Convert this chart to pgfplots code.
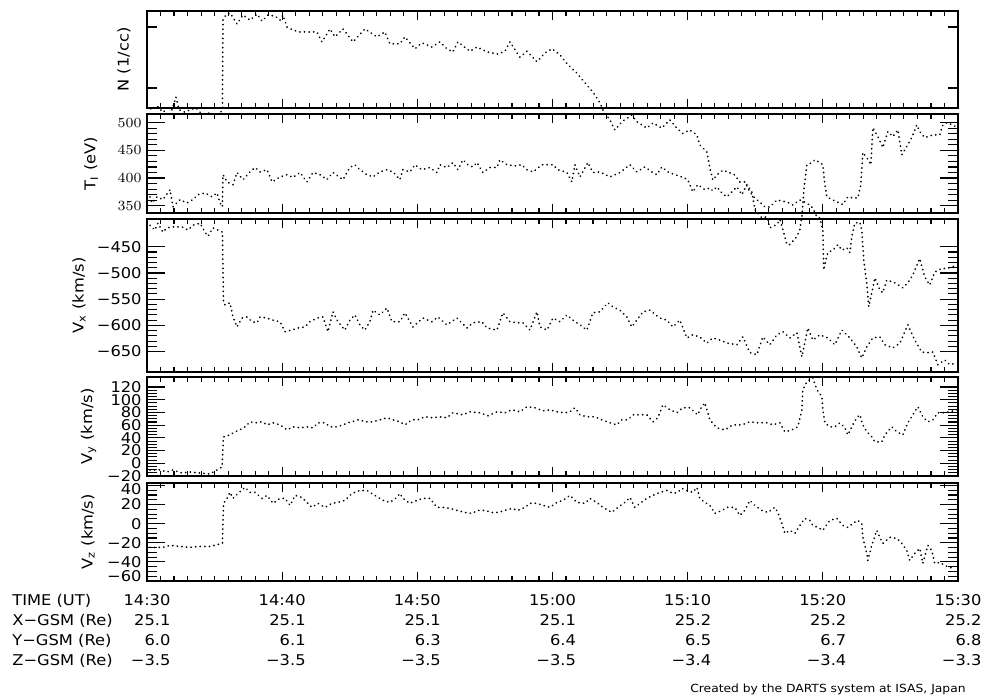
\documentclass[border=0pt]{standalone}
\usepackage{fontspec}
\setmainfont{DejaVu Sans}[FakeStretch=1.1]
\usepackage{pgfplots}
\pgfplotsset{compat=1.18}
\newcommand{\lf}{\fontsize{7.4}{9.85}\selectfont}
\newcommand{\shiftlab}[2]{\raisebox{#1}[\height][\depth]{#2}}
\pgfplotsset{
  panel/.style={
    scale only axis, width=405.5pt, anchor=south west,
    xmin=0, xmax=60, xtick={0,10,...,60}, minor x tick num=9,
    xticklabels={},
    tick align=inside, xtick pos=both, ytick pos=both,
    yticklabel pos=left,
    clip=false,
    axis line style={line width=0.9pt},
    tick style={black, line width=0.55pt},
    major tick length=9pt, minor tick length=5pt,
    xtick style={/pgfplots/major tick length=4.5pt, /pgfplots/minor tick length=2.4pt},
    tick label style={font=\lf},
    yticklabel style={inner sep=0pt, xshift=-2.5pt},
    ylabel style={font=\lf, anchor=center},
  },
  dots/.style={black, line width=0.9pt, line cap=round, line join=round, dash pattern=on 0.1pt off 2.2pt, mark=none},
}
\begin{document}
\begin{tikzpicture}
\path[use as bounding box] (0pt,0pt) rectangle (493pt,349pt);

% ---------------- N ----------------
\begin{axis}[panel, at={(73.5pt,295pt)}, height=48.5pt,
  ymode=log, ymin=0.47, ymax=18.3, ytick={1,10}, yticklabels={}, yminorticks=false,
  ytick style={/pgfplots/major tick length=5pt},
  ylabel={N (1/cc)}, ylabel style={at={(axis description cs:-0.0284,0.5)}}]
\addplot[dots] coordinates {
(0,0.51) (0.37,0.44) (0.74,0.51) (1.18,0.40) (1.55,0.47) (1.85,0.44) (2.14,0.71) (2.37,0.44)
(2.81,0.40) (3.18,0.44) (3.62,0.47) (3.92,0.40) (4.29,0.375) (4.66,0.39) (5.10,0.36) (5.40,0.39)
(5.58,0.44) (5.62,13.0) (5.84,15.7) (6.14,17.0) (6.66,11.2) (7.10,15.7) (7.62,13.0) (8.14,16.3)
(8.51,12.5) (8.95,15.7) (9.47,15.1) (9.84,13.0) (10.06,15.7) (10.36,10.0) (10.80,8.9) (11.32,8.3)
(12.06,8.3) (12.57,8.3) (12.94,5.7) (13.54,9.3) (13.91,6.9) (14.50,9.3) (15.24,5.7) (16.12,9.3)
(17.01,6.9) (17.60,8.3) (17.97,5.3) (18.71,5.3) (19.08,6.9) (19.82,4.4) (20.34,5.5) (21.08,4.7)
(21.67,5.7) (22.19,4.4) (22.63,3.9) (23.00,5.7) (23.89,4.0) (24.41,4.7) (25.15,3.9) (25.96,3.6)
(26.48,4.0) (26.85,5.7) (27.59,3.2) (28.11,4.0) (28.85,2.7) (29.44,3.75) (29.96,4.4) (30.55,3.5)
(31.14,2.4) (31.80,1.76) (32.54,1.12) (32.99,0.86) (33.51,0.57) (33.80,0.40) (34.25,0.30) (34.62,0.205)
(35.13,0.28) (35.87,0.36) (36.24,0.28) (36.98,0.22) (37.43,0.267) (38.09,0.22) (38.68,0.30) (39.20,0.22)
(39.64,0.18) (40.16,0.205) (40.68,0.17) (40.90,0.116) (41.42,0.089) (41.64,0.049) (41.86,0.031) (42.16,0.0375)
(42.60,0.045) (42.97,0.042) (43.49,0.0375) (43.86,0.0288) (44.23,0.0288) (44.60,0.0197) (44.97,0.0157) (45.34,0.0135)
(45.71,0.0112) (46.08,0.0112) (46.60,0.0146) (47.34,0.0135) (47.78,0.0121) (48.30,0.0146) (48.82,0.0130) (49.26,0.0108)
(49.56,0.0077) (49.78,0.0074) (50.00,0.0047) (50.07,0.00104) (50.22,0.0015) (50.37,0.0020) (50.74,0.0022) (51.11,0.0027)
(51.41,0.0022) (51.78,0.0024) (52.00,0.0020) (52.14,0.0036) (52.37,0.0061) (52.74,0.0063) (52.88,0.0047) (53.03,0.0015)
(53.25,0.00063) (53.40,0.00026) (53.62,0.00044) (53.85,0.00077) (54.22,0.00049) (54.44,0.00044) (54.73,0.00071) (55.33,0.00064)
(55.92,0.00053) (56.29,0.00064) (56.66,0.00086) (57.17,0.0016) (57.54,0.00080) (57.91,0.00059) (58.28,0.00096) (58.80,0.0011)
(59.17,0.0011) (59.54,0.00116) (59.91,0.00126)
};
\end{axis}

% ---------------- T ----------------
\begin{axis}[panel, at={(73.5pt,242.5pt)}, height=49.5pt,
  ymin=336.8, ymax=515.7, ytick={350,400,450,500}, minor y tick num=4,
  ylabel={T\textsubscript{I} (eV)}, ylabel style={at={(axis description cs:-0.069,0.5)}}]
\addplot[dots] coordinates {
(0.22,366) (0.37,355) (0.74,366) (1.18,361) (1.70,379) (1.92,348) (2.44,361) (2.96,355)
(3.40,361) (3.77,370) (4.29,373) (4.81,366) (5.18,373) (5.40,355) (5.58,348) (5.62,406)
(5.92,393) (6.36,388) (6.66,410) (7.10,397) (7.62,411) (7.99,419) (8.36,411) (8.88,415)
(9.25,393) (9.84,402) (10.36,406) (10.80,401) (11.32,410) (11.83,393) (12.28,410) (12.80,406)
(13.31,397) (13.76,410) (14.50,397) (15.01,419) (15.38,424) (15.75,415) (16.27,406) (16.72,402)
(17.23,411) (17.75,415) (18.20,411) (18.71,397) (18.93,415) (19.45,411) (19.82,424) (20.34,415)
(20.93,419) (21.45,410) (21.67,424) (22.19,419) (22.63,428) (23.00,415) (23.37,433) (23.74,424)
(24.11,420) (24.41,428) (24.85,410) (25.37,419) (25.89,419) (26.11,433) (26.63,424) (27.22,422)
(27.74,424) (28.11,415) (28.55,411) (29.22,424) (30.03,424) (30.40,415) (31.07,410) (31.43,393)
(31.66,424) (32.03,402) (32.62,428) (32.99,410) (33.51,411) (34.25,402) (34.99,410) (35.73,424)
(36.24,411) (36.83,420) (37.35,411) (37.72,406) (38.09,420) (38.54,411) (39.05,406) (39.57,402)
(40.01,397) (40.38,375) (40.75,388) (41.27,379) (41.64,382) (41.86,377) (42.16,384) (42.53,373)
(42.90,366) (43.27,375) (43.64,384) (44.01,370) (44.38,388) (44.75,375) (44.97,343) (45.49,328)
(45.86,330) (46.08,310) (46.60,316) (46.83,325) (47.04,307) (47.34,280) (47.56,280) (48.08,294)
(48.30,307) (48.45,330) (48.60,379) (48.82,424) (49.19,428) (49.41,433) (49.78,428) (50.00,424)
(50.15,388) (50.30,366) (50.67,361) (51.04,357) (51.48,352) (51.85,366) (52.22,364) (52.59,364)
(52.81,388) (52.96,446) (53.25,437) (53.55,424) (53.70,491) (54.07,475) (54.44,455) (54.81,484)
(55.18,475) (55.55,487) (55.84,442) (56.21,457) (56.58,473) (56.95,496) (57.17,484) (57.54,473)
(58.14,478) (58.65,478) (58.88,496) (59.17,500) (59.62,496) (59.91,491)
};
\end{axis}

% ---------------- Vx ----------------
\begin{axis}[panel, at={(73.5pt,163pt)}, height=76.5pt,
  ymin=-689, ymax=-397, ytick={-650,-600,-550,-500,-450},
  yticklabels={−650,−600,−550,−500,−450}, minor y tick num=4,
  ylabel={V\textsubscript{x} (km/s)}, ylabel style={at={(axis description cs:-0.0838,0.5)}}]
\addplot[dots] coordinates {
(0.22,-409) (0.59,-418) (0.81,-405) (1.18,-422) (1.48,-414) (1.92,-412) (2.59,-412) (3.03,-418)
(3.40,-409) (3.92,-405) (4.29,-422) (4.51,-430) (4.88,-414) (5.25,-418) (5.58,-422) (5.66,-557)
(5.77,-561) (6.14,-557) (6.36,-584) (6.66,-603) (7.03,-586) (7.40,-584) (7.77,-593) (8.14,-595)
(8.36,-584) (8.88,-586) (9.32,-590) (9.84,-593) (10.21,-612) (10.72,-609) (11.17,-605) (11.69,-603)
(12.06,-593) (12.57,-586) (13.02,-584) (13.39,-612) (13.76,-574) (14.13,-593) (14.64,-609) (15.01,-590)
(15.38,-580) (15.75,-599) (16.12,-609) (16.49,-593) (16.72,-571) (17.23,-580) (17.75,-567) (18.12,-593)
(18.71,-593) (19.08,-576) (19.67,-603) (20.41,-586) (21.08,-593) (21.52,-584) (22.19,-599) (22.93,-586)
(23.67,-605) (24.11,-595) (24.78,-593) (25.15,-605) (25.89,-609) (26.33,-576) (26.85,-593) (27.37,-595)
(27.81,-595) (28.33,-609) (28.85,-574) (29.07,-603) (29.59,-609) (30.03,-586) (30.55,-593) (31.07,-580)
(31.51,-590) (32.03,-599) (32.54,-609) (32.99,-576) (33.51,-574) (34.10,-557) (34.47,-565) (34.99,-571)
(35.50,-584) (35.87,-603) (36.24,-590) (36.69,-574) (37.20,-571) (37.94,-586) (38.46,-590) (38.91,-603)
(39.42,-590) (39.94,-624) (40.38,-618) (40.90,-622) (41.42,-634) (41.86,-624) (42.38,-628) (42.97,-634)
(43.64,-637) (44.08,-622) (44.60,-652) (45.12,-656) (45.56,-622) (46.08,-637) (46.60,-618) (47.04,-612)
(47.56,-624) (48.08,-614) (48.45,-660) (48.89,-605) (49.26,-628) (49.78,-618) (50.37,-624) (50.89,-637)
(51.41,-609) (52.00,-624) (52.51,-641) (52.88,-662) (53.25,-641) (53.70,-624) (54.22,-622) (54.59,-637)
(55.18,-643) (55.70,-634) (56.29,-599) (56.80,-628) (57.32,-651) (57.77,-652) (58.14,-651) (58.51,-675)
(59.02,-666) (59.39,-675) (59.91,-672)
};
\end{axis}

% ---------------- Vy ----------------
\begin{axis}[panel, at={(73.5pt,111pt)}, height=49.5pt,
  ymin=-20, ymax=135.8, ytick={-20,0,20,40,60,80,100,120},
  yticklabels={−20,0,20,40,60,80,100,120}, minor y tick num=3,
  ylabel={V\textsubscript{y} (km/s)}, ylabel style={at={(axis description cs:-0.072,0.5)}}]
\addplot[dots] coordinates {
(0.22,-10.5) (0.96,-10.5) (1.48,-13.7) (1.92,-10.5) (2.59,-15.3) (3.18,-13.7) (3.92,-15.3) (4.66,-16.8)
(5.18,-10.5) (5.55,-5.8) (5.66,41.6) (6.14,44.7) (6.51,49.5) (6.88,52.6) (7.25,57.4) (7.62,65.3)
(7.99,63.7) (8.51,65.3) (8.88,60.5) (9.32,63.7) (9.84,60.5) (10.36,52.6) (10.80,57.4) (11.32,55.8)
(11.83,57.4) (12.28,55.8) (12.65,63.7) (13.17,63.7) (13.54,57.4) (14.05,57.4) (14.50,60.5) (14.87,63.7)
(15.61,68.4) (16.27,65.3) (16.72,65.3) (17.23,68.4) (17.75,71.6) (18.20,68.4) (18.71,65.3) (19.08,60.5)
(19.60,68.4) (20.04,68.4) (20.56,73.2) (21.15,71.6) (21.67,73.2) (22.19,71.6) (22.63,79.5) (23.37,76.3)
(23.89,81.0) (24.63,79.5) (25.22,74.8) (25.89,81.0) (26.48,79.5) (27.00,84.2) (27.59,81.0) (28.11,89.0)
(28.70,87.4) (29.29,82.6) (29.81,84.2) (30.33,81.0) (30.92,79.5) (31.29,81.0) (31.66,87.4) (32.03,76.3)
(32.54,73.2) (33.14,73.2) (33.65,68.4) (34.25,63.7) (34.76,60.5) (35.13,68.4) (35.58,68.4) (35.95,76.3)
(36.46,76.3) (36.98,76.3) (37.43,65.3) (37.80,71.6) (38.17,92.1) (38.68,84.2) (39.20,79.5) (39.64,87.4)
(40.16,87.4) (40.75,76.3) (40.90,84.2) (41.27,95.3) (41.64,68.4) (42.16,55.8) (42.75,52.6) (43.34,60.5)
(44.01,60.5) (44.60,65.3) (45.19,63.7) (45.86,63.7) (46.30,60.5) (46.82,63.7) (47.19,49.5) (47.71,52.6)
(48.15,57.4) (48.45,84.2) (48.52,115.8) (48.82,128.4) (49.04,131.6) (49.26,134.7) (49.56,115.8) (49.93,104.7)
(50.00,84.2) (50.15,63.7) (50.52,57.4) (50.89,57.4) (51.26,63.7) (51.63,55.8) (51.85,44.7) (52.14,57.4)
(52.51,71.6) (52.74,76.3) (52.96,60.5) (53.25,49.5) (53.62,41.6) (53.85,33.7) (54.36,33.7) (54.59,44.7)
(55.10,57.4) (55.47,49.5) (55.92,44.7) (56.29,63.7) (56.66,76.3) (57.03,89.0) (57.40,73.2) (57.77,65.3)
(58.14,68.4) (58.51,79.5) (58.88,79.5) (59.39,81.0) (59.91,84.2)
};
\end{axis}

% ---------------- Vz ----------------
\begin{axis}[panel, at={(73.5pt,58.5pt)}, height=49pt,
  ymin=-60, ymax=42.6, ytick={-60,-40,-20,0,20,40},
  yticklabels={\shiftlab{2.5pt}{−60},−40,−20,0,20,\shiftlab{-2pt}{40}}, minor y tick num=3,
  ylabel={V\textsubscript{z} (km/s)}, ylabel style={at={(axis description cs:-0.0727,0.5)}}]
\addplot[dots] coordinates {
(0.22,-24.8) (1.18,-24.8) (1.70,-22.7) (2.44,-23.8) (3.18,-24.8) (3.92,-23.8) (4.66,-23.8) (5.25,-21.7)
(5.58,-20.6) (5.66,21.3) (5.92,26.5) (6.14,32.8) (6.36,26.5) (6.73,31.7) (7.25,38.0) (7.62,32.8)
(7.99,32.8) (8.51,26.5) (8.88,29.6) (9.32,21.3) (9.84,26.5) (10.21,26.5) (10.58,19.2) (10.95,29.6)
(11.46,27.5) (11.83,22.3) (12.20,17.1) (12.65,21.3) (13.17,17.1) (13.68,21.3) (14.13,22.3) (14.64,24.4)
(15.16,31.7) (15.75,34.8) (16.27,34.8) (16.86,29.6) (17.46,24.4) (17.97,22.3) (18.49,27.5) (18.71,31.7)
(18.93,26.5) (19.45,21.3) (19.97,24.4) (20.41,26.5) (20.93,26.5) (21.45,17.1) (21.89,17.1) (22.41,16.0)
(22.93,13.9) (23.52,11.8) (24.04,10.8) (24.48,13.9) (25.00,13.9) (25.52,11.8) (25.96,11.8) (26.48,13.9)
(27.00,16.0) (27.44,13.9) (27.96,17.1) (28.33,21.3) (28.85,21.3) (29.29,19.2) (29.81,17.1) (30.33,22.3)
(30.77,24.4) (31.29,29.6) (31.80,22.3) (32.40,21.3) (32.77,26.5) (33.28,22.3) (33.73,17.1) (34.39,11.8)
(34.84,17.1) (35.36,22.3) (35.73,27.5) (36.09,17.1) (36.46,21.3) (36.98,26.5) (37.43,29.6) (37.94,32.8)
(38.46,34.8) (38.91,31.7) (39.27,32.8) (39.57,37.0) (39.94,34.8) (40.38,32.8) (40.68,38.0) (40.90,26.5)
(41.27,22.3) (41.64,19.2) (42.01,10.8) (42.53,13.9) (42.97,17.1) (43.49,17.1) (43.86,8.7) (44.23,13.9)
(44.60,24.4) (44.97,19.2) (45.49,13.9) (45.93,11.8) (46.45,17.1) (46.67,11.8) (46.97,0.3) (47.19,-10.2)
(47.56,-7.0) (47.93,-10.2) (48.30,-1.8) (48.67,5.5) (49.04,3.5) (49.26,-1.8) (49.63,-3.9) (50.00,-7.0)
(50.52,3.5) (51.04,5.5) (51.48,-1.8) (51.85,-3.9) (52.22,0.3) (52.59,3.5) (52.88,0.3) (52.96,-14.3)
(53.25,-31.1) (53.33,-38.4) (53.62,-22.7) (53.99,-7.0) (54.22,-14.3) (54.44,-20.6) (54.96,-14.3) (55.47,-15.4)
(55.84,-20.6) (56.21,-28.0) (56.43,-38.4) (56.80,-31.1) (57.17,-25.9) (57.40,-41.6) (57.77,-22.7) (58.06,-28.0)
(58.28,-41.6) (58.65,-40.5) (59.02,-43.7) (59.39,-45.8) (59.76,-46.8)
};
\end{axis}

% ---------------- bottom table ----------------
\begin{scope}[font=\lf]
\node[anchor=base west, inner sep=0pt] at (6pt,46.15pt) {TIME (UT)};
\node[anchor=base west, inner sep=0pt] at (6pt,36.5pt) {X−GSM (Re)};
\node[anchor=base west, inner sep=0pt] at (6pt,26.5pt) {Y−GSM (Re)};
\node[anchor=base west, inner sep=0pt] at (6pt,16.5pt) {Z−GSM (Re)};
\foreach \t/\tm/\xg/\yg/\zg [count=\i] in {
  0/14:30/25.1/6.0/−3.5, 10/14:40/25.1/6.1/−3.5, 20/14:50/25.1/6.3/−3.5,
  30/15:00/25.1/6.4/−3.5, 40/15:10/25.2/6.5/−3.4, 50/15:20/25.2/6.7/−3.4,
  60/15:30/25.2/6.8/−3.3} {
  \node[anchor=base, inner sep=0pt] (tm\i) at ({73.5pt+6.7583pt*\t},46.15pt) {\tm};
  \node[anchor=base east, inner sep=0pt] at ([yshift=-9.65pt]tm\i.base east) {\xg};
  \node[anchor=base east, inner sep=0pt] at ([yshift=-19.65pt]tm\i.base east) {\yg};
  \node[anchor=base east, inner sep=0pt] at ([yshift=-29.65pt]tm\i.base east) {\zg};
}
\end{scope}
\node[anchor=base east, inner sep=0pt, font=\fontsize{5.6}{6}\selectfont] at (483pt,3pt) {Created by the DARTS system at ISAS, Japan};
\end{tikzpicture}
\end{document}
